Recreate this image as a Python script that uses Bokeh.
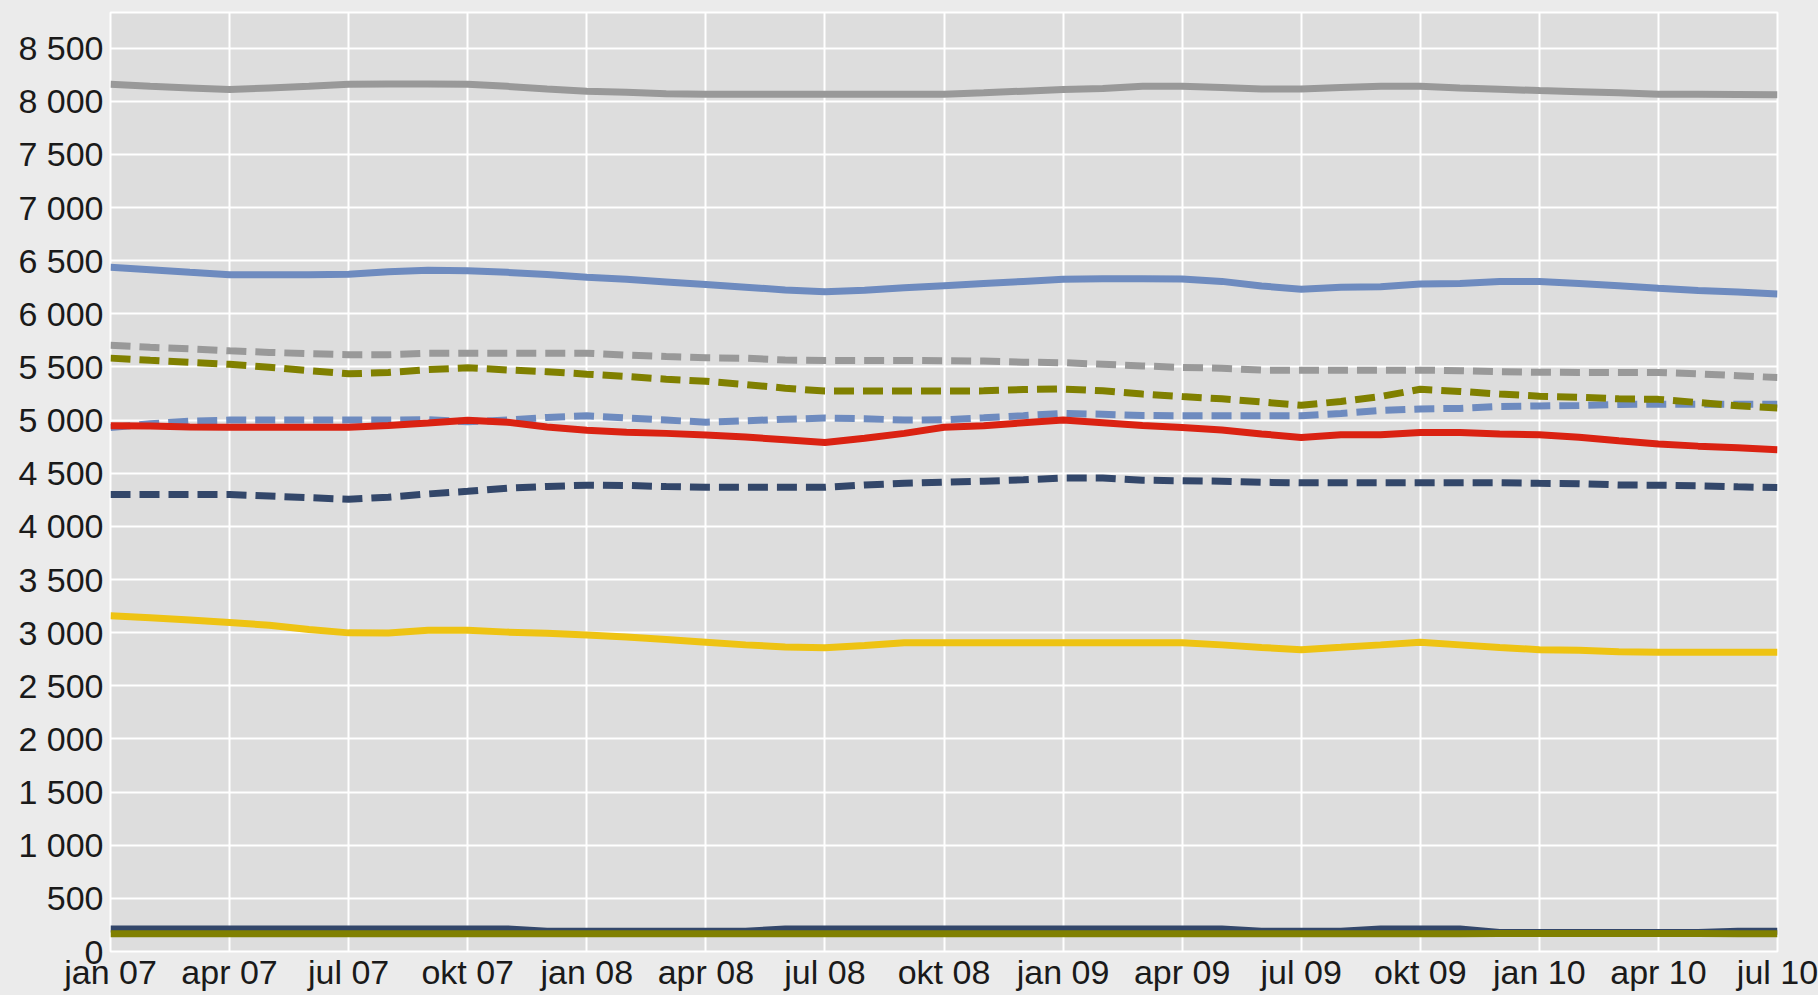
from bokeh.plotting import figure
from bokeh.models import Range1d, FixedTicker
from bokeh.embed import file_html
from bokeh.resources import INLINE

# month index 0 = jan 07 ... 42 = jul 10
months = list(range(43))

x_tick_pos = [0, 3, 6, 9, 12, 15, 18, 21, 24, 27, 30, 33, 36, 39, 42]
x_tick_labels = ["jan 07", "apr 07", "jul 07", "okt 07", "jan 08", "apr 08", "jul 08",
                 "okt 08", "jan 09", "apr 09", "jul 09", "okt 09", "jan 10", "apr 10", "jul 10"]
y_tick_pos = [0, 500, 1000, 1500, 2000, 2500, 3000, 3500, 4000, 4500, 5000, 5500, 6000,
              6500, 7000, 7500, 8000, 8500]
y_tick_labels = ["0", "500", "1 000", "1 500", "2 000", "2 500", "3 000", "3 500", "4 000",
                 "4 500", "5 000", "5 500", "6 000", "6 500", "7 000", "7 500", "8 000", "8 500"]

gray_solid = [8160, 8140, 8125, 8110, 8125, 8140, 8160, 8163, 8163, 8160,
              8140, 8115, 8095, 8085, 8070, 8066, 8066, 8066, 8066, 8066,
              8066, 8066, 8080, 8095, 8110, 8120, 8140, 8140, 8130, 8115,
              8115, 8130, 8140, 8140, 8125, 8113, 8100, 8090, 8080, 8066,
              8066, 8063, 8060]
blue_solid = [6437, 6415, 6390, 6368, 6368, 6368, 6372, 6395, 6410, 6405,
              6390, 6370, 6345, 6325, 6300, 6275, 6250, 6225, 6208, 6222,
              6245, 6265, 6285, 6305, 6325, 6330, 6330, 6328, 6305, 6262,
              6232, 6250, 6255, 6280, 6285, 6305, 6305, 6285, 6265, 6240,
              6220, 6205, 6186]
gray_dashed = [5705, 5685, 5670, 5652, 5637, 5625, 5615, 5615, 5628, 5630,
               5630, 5630, 5630, 5612, 5598, 5586, 5582, 5565, 5561, 5561,
               5561, 5558, 5555, 5545, 5540, 5525, 5510, 5495, 5488, 5470,
               5470, 5470, 5470, 5470, 5465, 5455, 5450, 5448, 5448, 5448,
               5435, 5418, 5400]
olive_dashed = [5583, 5562, 5543, 5525, 5497, 5465, 5435, 5448, 5475, 5492,
                5472, 5455, 5432, 5410, 5385, 5365, 5335, 5300, 5273, 5273,
                5273, 5273, 5275, 5288, 5292, 5275, 5245, 5222, 5200, 5170,
                5140, 5175, 5222, 5290, 5270, 5245, 5225, 5215, 5200, 5195,
                5165, 5135, 5113]
lightblue_dashed = [4930, 4965, 4990, 5000, 5000, 5000, 5000, 5000, 5005, 4985,
                    5000, 5025, 5040, 5020, 5000, 4980, 4993, 5008, 5019, 5013,
                    5000, 5003, 5022, 5042, 5063, 5055, 5043, 5041, 5041, 5041,
                    5041, 5063, 5090, 5105, 5110, 5128, 5133, 5138, 5147, 5150,
                    5150, 5148, 5148]
red_solid = [4947, 4945, 4935, 4932, 4932, 4932, 4932, 4950, 4972, 4998,
             4980, 4935, 4905, 4885, 4875, 4860, 4840, 4815, 4790, 4830,
             4875, 4933, 4947, 4975, 5000, 4975, 4950, 4931, 4906, 4870,
             4837, 4862, 4862, 4884, 4884, 4870, 4862, 4838, 4805, 4775,
             4755, 4740, 4722]
navy_dashed = [4300, 4300, 4300, 4300, 4285, 4270, 4255, 4275, 4305, 4330,
               4360, 4375, 4388, 4385, 4375, 4368, 4367, 4367, 4367, 4390,
               4405, 4415, 4425, 4438, 4455, 4455, 4435, 4429, 4425, 4415,
               4410, 4410, 4410, 4410, 4410, 4410, 4405, 4402, 4390, 4387,
               4382, 4372, 4365]
yellow_solid = [3160, 3140, 3118, 3095, 3070, 3030, 2998, 2997, 3022, 3022,
                3005, 2995, 2978, 2960, 2935, 2910, 2885, 2865, 2858, 2880,
                2905, 2906, 2906, 2906, 2906, 2906, 2906, 2906, 2885, 2860,
                2840, 2862, 2885, 2909, 2885, 2860, 2840, 2835, 2820, 2815,
                2815, 2815, 2815]
navy_bottom = [212, 212, 212, 212, 212, 212, 212, 212, 212, 212,
               212, 190, 190, 190, 190, 190, 190, 212, 212, 212,
               212, 212, 212, 212, 212, 212, 212, 212, 212, 190,
               190, 190, 212, 212, 212, 178, 178, 178, 178, 178,
               178, 190, 190]
olive_bottom = [167, 167, 167, 167, 167, 167, 167, 167, 167, 167,
                167, 167, 167, 167, 167, 167, 167, 167, 167, 167,
                167, 167, 167, 167, 167, 167, 167, 167, 167, 167,
                167, 167, 167, 167, 167, 170, 170, 170, 170, 170,
                170, 168, 168]

p = figure(frame_width=1667, frame_height=939,
           x_range=Range1d(0, 42), y_range=Range1d(0, 8835),
           output_backend="svg", toolbar_location=None,
           min_border_left=110, min_border_top=12, min_border_right=41, min_border_bottom=4,
           background_fill_color="#DDDDDD", border_fill_color="#EBEBEB",
           outline_line_color="white", outline_line_width=2)

p.xaxis.ticker = FixedTicker(ticks=x_tick_pos)
p.xaxis.major_label_overrides = dict(zip(x_tick_pos, x_tick_labels))
p.yaxis.ticker = FixedTicker(ticks=y_tick_pos)
p.yaxis.major_label_overrides = dict(zip(y_tick_pos, y_tick_labels))

for ax in (p.xaxis, p.yaxis):
    ax.axis_line_color = None
    ax.major_tick_line_color = None
    ax.minor_tick_line_color = None
    ax.major_tick_in = 0
    ax.major_tick_out = 0
    ax.major_label_text_font = "Liberation Sans"
    ax.major_label_text_font_size = "34px"
    ax.major_label_text_color = "#1a1a1a"
p.xaxis.major_label_standoff = 1
p.yaxis.major_label_standoff = 7

p.xgrid.ticker = FixedTicker(ticks=x_tick_pos)
p.ygrid.ticker = FixedTicker(ticks=y_tick_pos)
for g in (p.xgrid, p.ygrid):
    g.grid_line_color = "white"
    g.grid_line_width = 2

LW = 7
DASH = "20 9"
p.line(months, gray_solid, line_color="#999999", line_width=LW)
p.line(months, blue_solid, line_color="#6E8BBF", line_width=LW)
p.line(months, gray_dashed, line_color="#999999", line_width=LW, line_dash=DASH)
p.line(months, lightblue_dashed, line_color="#6E8BBF", line_width=LW, line_dash=DASH)
p.line(months, olive_dashed, line_color="#808000", line_width=LW, line_dash=DASH)
p.line(months, red_solid, line_color="#DA2212", line_width=LW)
p.line(months, navy_dashed, line_color="#33476A", line_width=LW, line_dash=DASH)
p.line(months, yellow_solid, line_color="#EEC313", line_width=LW)
p.line(months, navy_bottom, line_color="#33476A", line_width=LW)
p.line(months, olive_bottom, line_color="#808000", line_width=LW)

html = file_html(p, INLINE)
html = html.replace("</head>", "<style>html,body{background:#EBEBEB;overflow:hidden}</style></head>", 1)
open("out.html", "w").write(html)
